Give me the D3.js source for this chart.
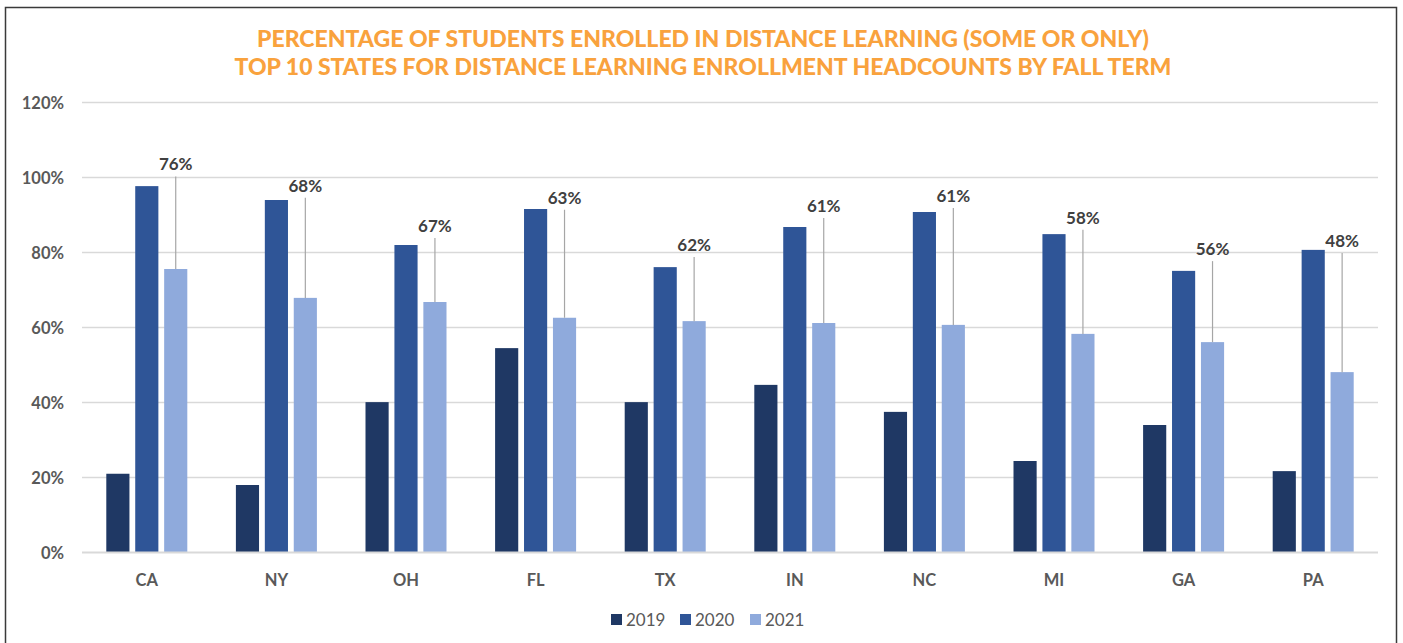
<!DOCTYPE html>
<html>
<head>
<meta charset="utf-8">
<script src="https://cdn.jsdelivr.net/npm/d3@7"></script>
<style>
  html, body { margin: 0; padding: 0; background: #fff; }
  svg { display: block; }
</style>
</head>
<body>
<svg id="chart" width="1403" height="643"></svg>
<script>
// ---- data ----
const states = ["CA", "NY", "OH", "FL", "TX", "IN", "NC", "MI", "GA", "PA"];
const years = ["2019", "2020", "2021"];
const v2019 = [21.0, 18.0, 40.1, 54.5, 40.1, 44.7, 37.5, 24.4, 34.0, 21.7];
const v2020 = [97.7, 94.0, 82.0, 91.6, 76.1, 86.8, 90.8, 84.9, 75.1, 80.7];
const v2021 = [75.6, 67.9, 66.8, 62.6, 61.7, 61.2, 60.7, 58.3, 56.1, 48.1];
const labels2021 = ["76%", "68%", "67%", "63%", "62%", "61%", "61%", "58%", "56%", "48%"];
// label anchor heights (in % units of the value axis), as placed in the original
const labelPos = [103.5, 97.8, 87.1, 94.6, 82.0, 92.4, 95.1, 89.3, 80.9, 83.1];
const yTicks = [0, 20, 40, 60, 80, 100, 120];
const titleLines = [
  "PERCENTAGE OF STUDENTS ENROLLED IN DISTANCE LEARNING (SOME OR ONLY)",
  "TOP 10 STATES FOR DISTANCE LEARNING ENROLLMENT HEADCOUNTS BY FALL TERM"
];

// ---- styles ----
const colors = { "2019": "#1F3864", "2020": "#2F5597", "2021": "#8FAADC" };
const series = { "2019": v2019, "2020": v2020, "2021": v2021 };
const axisFont = "Lato, 'Open Sans', sans-serif";

const svg = d3.select("#chart");

// frame
svg.append("rect")
  .attr("x", 5.5).attr("y", 7.5)
  .attr("width", 1391).attr("height", 660)
  .attr("fill", "#fff").attr("stroke", "#3a3a3a").attr("stroke-width", 1.5);

// title
const titleW = [892, 937];
titleLines.forEach((t, i) => {
  svg.append("text")
    .attr("x", 703).attr("y", 47 + i * 28)
    .attr("text-anchor", "middle")
    .attr("font-family", axisFont)
    .attr("font-weight", 900)
    .attr("font-size", 22)
    .attr("fill", "#F9A23D")
    .attr("textLength", titleW[i])
    .attr("lengthAdjust", "spacingAndGlyphs")
    .text(t);
});

// scales
const x0 = d3.scaleBand().domain(states).range([82, 1378])
  .paddingInner(0.375).paddingOuter(0.1875);
const x1 = d3.scaleBand().domain(years).range([0, x0.bandwidth()]).paddingInner(0.2);
const y = d3.scaleLinear().domain([0, 120]).range([552.5, 102.5]);

// gridlines
svg.append("g").selectAll("line").data(yTicks.filter(d => d > 0)).join("line")
  .attr("x1", 82).attr("x2", 1378)
  .attr("y1", d => y(d)).attr("y2", d => y(d))
  .attr("stroke", "#d9d9d9").attr("stroke-width", 1.5);

// y axis labels
const yAxis = d3.axisLeft(y).tickValues(yTicks).tickFormat(d => d + "%").tickSize(0).tickPadding(0);
const gy = svg.append("g").attr("transform", "translate(64,0)").call(yAxis);
gy.select(".domain").remove();
gy.selectAll("text")
  .attr("font-family", axisFont).attr("font-weight", 700).attr("font-size", 16.5)
  .attr("fill", "#595959").attr("dy", "0.36em");

// bars
const groups = svg.append("g").selectAll("g").data(states).join("g")
  .attr("transform", d => `translate(${x0(d)},0)`);
groups.selectAll("rect")
  .data((s, i) => years.map(yr => ({ yr, v: series[yr][i] })))
  .join("rect")
  .attr("x", d => x1(d.yr))
  .attr("width", x1.bandwidth())
  .attr("y", d => y(d.v))
  .attr("height", d => y(0) - y(d.v))
  .attr("fill", d => colors[d.yr]);

// baseline
svg.append("line")
  .attr("x1", 82).attr("x2", 1378)
  .attr("y1", y(0)).attr("y2", y(0))
  .attr("stroke", "#d9d9d9").attr("stroke-width", 2);

// x axis labels
const xAxis = d3.axisBottom(x0).tickSize(0).tickPadding(0);
const gx = svg.append("g").attr("transform", `translate(0,${y(0)})`).call(xAxis);
gx.select(".domain").remove();
gx.selectAll("text")
  .attr("font-family", axisFont).attr("font-weight", 700).attr("font-size", 16.5)
  .attr("fill", "#595959").attr("y", 33).attr("dy", 0);

// leader lines + labels for 2021
const lx = (i) => x0(states[i]) + x1("2021") + x1.bandwidth() / 2;
svg.append("g").selectAll("line").data(states).join("line")
  .attr("x1", (d, i) => lx(i)).attr("x2", (d, i) => lx(i))
  .attr("y1", (d, i) => y(labelPos[i]) + 12)
  .attr("y2", (d, i) => y(v2021[i]))
  .attr("stroke", "#a6a6a6").attr("stroke-width", 1.2);
svg.append("g").selectAll("text").data(states).join("text")
  .attr("x", (d, i) => lx(i))
  .attr("y", (d, i) => y(labelPos[i]) + 6)
  .attr("text-anchor", "middle")
  .attr("font-family", axisFont).attr("font-weight", 700).attr("font-size", 17)
  .attr("fill", "#404040")
  .text((d, i) => labels2021[i]);

// legend
const legendX = [611, 680, 750];
const lg = svg.append("g").selectAll("g").data(years).join("g")
  .attr("transform", (d, i) => `translate(${legendX[i]},614)`);
lg.append("rect").attr("width", 11).attr("height", 11).attr("fill", d => colors[d]);
lg.append("text").attr("x", 15).attr("y", 11.5)
  .attr("font-family", axisFont).attr("font-size", 17).attr("fill", "#595959")
  .text(d => d);
</script>
</body>
</html>
